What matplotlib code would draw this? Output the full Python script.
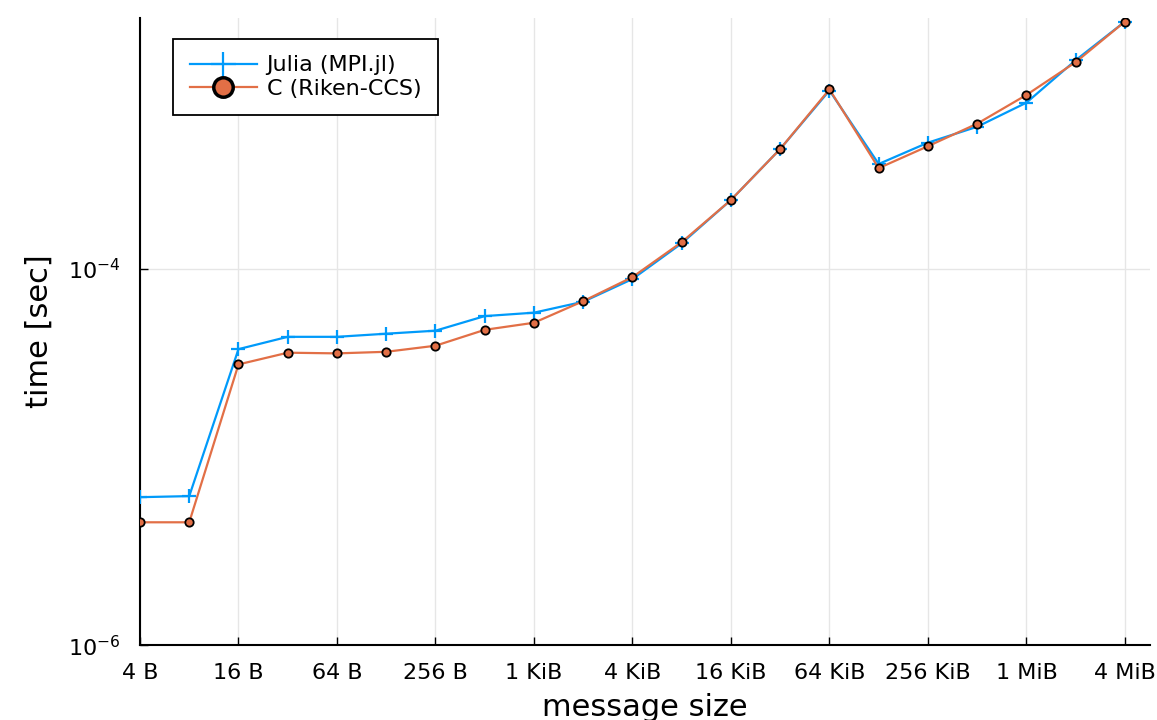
import matplotlib.pyplot as plt
from matplotlib.ticker import FixedLocator, NullLocator
from matplotlib.lines import Line2D

# message sizes in bytes (4 B .. 4 MiB)
sizes = [2 ** k for k in range(2, 23)]

julia_times = [6.12e-6, 6.2e-6, 3.75e-5, 4.36e-5, 4.36e-5, 4.53e-5, 4.7e-5,
               5.62e-5, 5.86e-5, 6.7e-5, 8.85e-5, 1.37e-4, 2.33e-4, 4.35e-4,
               8.9e-4, 3.62e-4, 4.7e-4, 5.71e-4, 7.67e-4, 1.29e-3, 2.07e-3]
c_times = [4.5e-6, 4.5e-6, 3.11e-5, 3.59e-5, 3.56e-5, 3.63e-5, 3.91e-5,
           4.75e-5, 5.18e-5, 6.75e-5, 9.06e-5, 1.39e-4, 2.33e-4, 4.35e-4,
           9.03e-4, 3.44e-4, 4.5e-4, 5.93e-4, 8.43e-4, 1.26e-3, 2.07e-3]

xtick_vals = [2 ** k for k in range(2, 23, 2)]
xtick_labels = ["4 B", "16 B", "64 B", "256 B", "1 KiB", "4 KiB", "16 KiB",
                "64 KiB", "256 KiB", "1 MiB", "4 MiB"]
ytick_vals = [1e-6, 1e-4]
ytick_labels = ["$10^{-6}$", "$10^{-4}$"]

blue = "#009AFA"
orange = "#E26F46"

fig = plt.figure(figsize=(11.57, 7.2), dpi=100)
ax = fig.add_axes([0.121, 0.104, 0.873, 0.871])

ax.plot(sizes, julia_times, color=blue, lw=1.6, marker="+", ms=10, mew=1.6,
        label="Julia (MPI.jl)", zorder=3)
ax.plot(sizes, c_times, color=orange, lw=1.6, marker="o", ms=6,
        mfc=orange, mec="black", mew=1.3, label="C (Riken-CCS)", zorder=4)

ax.set_xscale("log", base=2)
ax.set_yscale("log")
ax.set_xlim(4, 2 ** 22.51)
ax.set_ylim(1e-6, 10 ** -2.665)

ax.xaxis.set_major_locator(FixedLocator(xtick_vals))
ax.set_xticklabels(xtick_labels)
ax.xaxis.set_minor_locator(NullLocator())
ax.yaxis.set_major_locator(FixedLocator(ytick_vals))
ax.set_yticklabels(ytick_labels)
ax.yaxis.set_minor_locator(NullLocator())

ax.tick_params(direction="in", length=6, width=1, labelsize=16, pad=13)
ax.tick_params(axis="y", pad=14)
ax.grid(True, color="#e6e6e6", lw=1)
ax.set_axisbelow(True)

for s in ["top", "right"]:
    ax.spines[s].set_visible(False)
for s in ["left", "bottom"]:
    ax.spines[s].set_linewidth(1.5)

ax.set_xlabel("message size", fontsize=22, labelpad=7)
ax.set_ylabel("time [sec]", fontsize=22, labelpad=10)

handles = [
    Line2D([], [], color=blue, lw=1.6, marker="+", ms=18, mew=1.6),
    Line2D([], [], color=orange, lw=1.6, marker="o", ms=14, mfc=orange,
           mec="black", mew=2.5),
]
leg = ax.legend(handles, ["Julia (MPI.jl)", "C (Riken-CCS)"], loc="upper left",
                bbox_to_anchor=(0.033, 0.967), fontsize=16, fancybox=False,
                edgecolor="black", framealpha=1, handlelength=3.0,
                handletextpad=0.45, labelspacing=0.15, borderpad=0.75,
                borderaxespad=0)
leg.get_frame().set_linewidth(1.3)

fig.savefig("out.png", dpi=100)
